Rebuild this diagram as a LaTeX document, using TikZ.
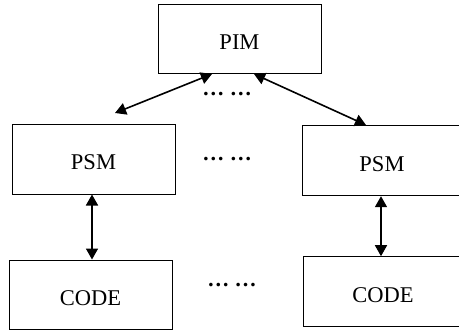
\documentclass[tikz,border=0pt]{standalone}
\usepackage{fontspec}
\setmainfont{Liberation Serif}
\usetikzlibrary{arrows.meta}
\begin{document}
\begin{tikzpicture}[x=1pt,y=-1pt,
  box/.style={draw,line width=1pt,inner sep=0pt,font=\fontsize{22.5}{26}\selectfont,text height=21pt,text depth=0pt},
  link/.style={line width=1.6pt,{Triangle[length=11pt,width=12pt]}-{Triangle[length=11pt,width=12pt]}},
  dots/.style={font=\fontsize{22}{26}\selectfont\bfseries,inner sep=0pt}]
\useasboundingbox (0,0) rectangle (459,330);
\clip (0,0) rectangle (459,330);
\node[box,minimum width=163pt,minimum height=69pt] (pim) at (239.5,39) {PIM};
\node[box,minimum width=163pt,minimum height=70pt] (psml) at (93.5,159) {PSM};
\node[box,minimum width=170pt,minimum height=70pt] (psmr) at (387,160.7) {\hspace*{-10pt}PSM};
\node[box,minimum width=170pt,minimum height=70pt] (coder) at (388,291.7) {\hspace*{-10pt}CODE};
\node[box,minimum width=163pt,minimum height=69pt] (codel) at (90.5,294.5) {CODE};
\node[dots] (d1) at (227,94) {… …};
\node[dots] (d2) at (227,159) {… …};
\node[dots] (d3) at (232,285) {… …};
\coordinate (pl) at (212,74);
\coordinate (pr) at (254,74);
\coordinate (sl) at (115,113);
\coordinate (sr) at (366,125);
\draw[link] (pl) -- (sl);
\draw[link] (pr) -- (sr);
\draw[link] (psml.south -| 92,0) -- (codel.north -| 92,0);
\draw[link] (psmr.south -| 381,0) -- (coder.north -| 381,0);
\end{tikzpicture}
\end{document}
